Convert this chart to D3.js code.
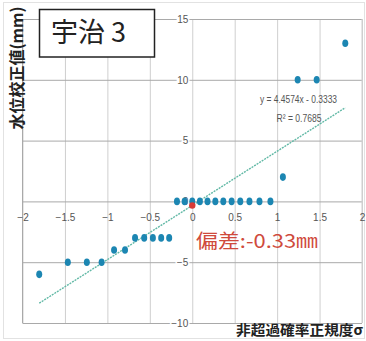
<!DOCTYPE html>
<html>
<head>
<meta charset="utf-8">
<script src="https://cdn.jsdelivr.net/npm/d3@7/dist/d3.min.js"></script>
<style>
  html, body { margin: 0; padding: 0; background: #fff; }
  svg { display: block; }
  .tick text { font-family: "Liberation Sans", Arial, sans-serif; }
</style>
</head>
<body>
<svg id="chart" width="366" height="341"></svg>
<script>
// Normal-probability plot of water-level corrections, station 宇治3
const sigma = [-1.803, -1.466, -1.242, -1.068, -0.921, -0.792, -0.674, -0.566, -0.464,
               -0.366, -0.272, -0.180, -0.090, 0, 0.090, 0.180, 0.272, 0.366,
               0.464, 0.566, 0.674, 0.792, 0.921, 1.068, 1.242, 1.466, 1.803];
const correction = [-6, -5, -5, -5, -4, -4, -3, -3, -3, -3, -3, 0, 0, 0, 0, 0, 0, 0,
                    0, 0, 0, 0, 0, 2, 10, 10, 13];
const xTicks = [-2, -1.5, -1, -0.5, 0, 0.5, 1, 1.5, 2];
const yTicks = [-10, -5, 0, 5, 10, 15];
const slope = 4.4574;
const intercept = -0.3333;
const rSquared = 0.7685;
const titleText = "宇治 3";
const yTitle = "水位校正値(mm)";
const xTitle = "非超過確率正規度σ";
const biasText = "偏差:-0.33㎜";

const svg = d3.select("#chart");
const x = d3.scaleLinear().domain([-2, 2]).range([22.5, 362]);
const y = d3.scaleLinear().domain([-10, 15]).range([323, 19]);

// outer frame
svg.append("rect").attr("x", 3.5).attr("y", 2.5).attr("width", 361).attr("height", 336)
  .attr("fill", "#fff").attr("stroke", "#e2e2e2").attr("stroke-width", 1);

// vertical gridlines
svg.append("g").attr("transform", `translate(0,${y(-10)})`)
  .call(d3.axisBottom(x).tickValues(xTicks).tickSize(-(y(-10) - y(15))).tickFormat(""))
  .call(g => g.select(".domain").remove())
  .call(g => g.selectAll("line").attr("stroke", "#cfcfcf"));

// horizontal gridlines
svg.append("g").attr("transform", `translate(${x(-2)},0)`)
  .call(d3.axisLeft(y).tickValues(yTicks).tickSize(-(x(2) - x(-2))).tickFormat(""))
  .call(g => g.select(".domain").remove())
  .call(g => g.selectAll("line").attr("stroke", "#a9a9a9"));

// left / right frame of the plot area
svg.append("line").attr("x1", x(-2)).attr("x2", x(-2)).attr("y1", y(15)).attr("y2", y(-10))
  .attr("stroke", "#a9a9a9");
svg.append("line").attr("x1", x(2)).attr("x2", x(2)).attr("y1", y(15)).attr("y2", y(-10))
  .attr("stroke", "#cfcfcf");

// y tick labels sit beside the σ = 0 axis
svg.append("g").attr("transform", `translate(${x(0)},0)`)
  .call(d3.axisLeft(y).tickValues(yTicks).tickSize(0).tickPadding(4).tickFormat(d3.format("d")))
  .call(g => g.select(".domain").remove())
  .call(g => g.selectAll("text")
    .attr("font-size", 10).attr("fill", "#555")
    .attr("stroke", "#fff").attr("stroke-width", 3).attr("paint-order", "stroke"));

// x tick labels just under the zero line
svg.append("g").attr("transform", `translate(0,${y(0)})`)
  .call(d3.axisBottom(x).tickValues(xTicks).tickSize(0).tickPadding(13).tickFormat(d3.format("")))
  .call(g => g.select(".domain").remove())
  .call(g => g.selectAll("text").attr("font-size", 10).attr("fill", "#555"));

// regression line over the data range
const xr = d3.extent(sigma);
svg.append("line")
  .attr("x1", x(xr[0])).attr("y1", y(slope * xr[0] + intercept))
  .attr("x2", x(xr[1])).attr("y2", y(slope * xr[1] + intercept))
  .attr("stroke", "#62b9a6").attr("stroke-width", 1.4).attr("stroke-dasharray", "2,1");

// observations
svg.append("g").selectAll("ellipse").data(sigma).join("ellipse")
  .attr("cx", d => x(d))
  .attr("cy", (d, i) => y(correction[i]))
  .attr("rx", 3).attr("ry", 3.8)
  .attr("fill", "#1c86b2");

// intercept marker
svg.append("circle").attr("cx", x(0)).attr("cy", y(intercept)).attr("r", 3.2)
  .attr("fill", "#d93a36");

// regression equation
const eq = svg.append("g").attr("font-family", "Liberation Sans, Arial, sans-serif")
  .attr("fill", "#555").attr("text-anchor", "middle").attr("font-size", 11);
eq.append("text").attr("x", 298.5).attr("y", 103)
  .attr("textLength", 77).attr("lengthAdjust", "spacingAndGlyphs")
  .text(`y = ${slope}x - ${Math.abs(intercept)}`);
eq.append("text").attr("x", 299).attr("y", 122)
  .attr("textLength", 45).attr("lengthAdjust", "spacingAndGlyphs")
  .text(`R² = ${rSquared}`);

// bias label
svg.append("text").attr("x", 196).attr("y", 248)
  .attr("font-family", "Noto Sans CJK JP, sans-serif").attr("font-size", 19)
  .attr("textLength", 122).attr("lengthAdjust", "spacingAndGlyphs")
  .attr("fill", "#cf4a3c").text(biasText);

// title box
svg.append("rect").attr("x", 39.5).attr("y", 9.5).attr("width", 115).attr("height", 47.5)
  .attr("fill", "#fff").attr("stroke", "#222").attr("stroke-width", 1.5);
svg.append("text").attr("x", 51).attr("y", 42)
  .attr("font-family", "Noto Sans CJK JP, sans-serif").attr("font-size", 27)
  .attr("fill", "#222").text(titleText);

// axis titles
svg.append("text").attr("transform", "translate(23,68) rotate(-90)")
  .attr("text-anchor", "middle")
  .attr("font-family", "Noto Sans CJK JP, sans-serif").attr("font-size", 16)
  .attr("font-weight", 700).attr("fill", "#222").text(yTitle);
svg.append("text").attr("x", 363).attr("y", 335).attr("text-anchor", "end")
  .attr("font-family", "Noto Sans CJK JP, sans-serif").attr("font-size", 14)
  .attr("textLength", 127).attr("lengthAdjust", "spacingAndGlyphs")
  .attr("font-weight", 700).attr("fill", "#222").text(xTitle);
</script>
</body>
</html>
